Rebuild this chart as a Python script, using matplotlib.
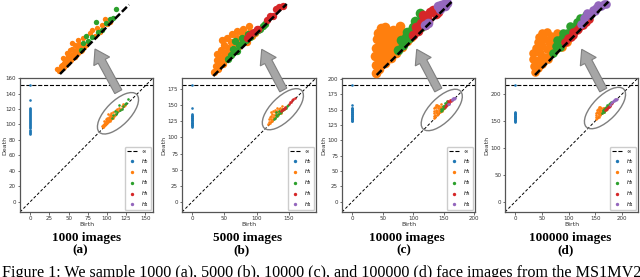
import numpy as np
import matplotlib
matplotlib.use("Agg")
import matplotlib.pyplot as plt
from matplotlib.patches import Ellipse, FancyArrow
from matplotlib.transforms import IdentityTransform
from matplotlib.ticker import MultipleLocator

inf = np.inf

# ---------------- data ----------------
titles = ["1000 images", "5000 images", "10000 images", "100000 images"]
letters = ["(a)", "(b)", "(c)", "(d)"]
caption = ("Figure 1: We sample 1000 (a), 5000 (b), 10000 (c), and 100000 (d) "
           "face images from the MS1MV2")
max_finite = [133.5, 160.5, 168.0, 191.5]
x_tick_step = [25, 50, 50, 50]
y_tick_step = [20, 25, 25, 50]

# H0 deaths (births are all 0)
h0_a = [88.0, 89.4, 90.6, 92.1, 93.3, 94.8, 96.2, 97.4, 98.9, 100.3, 101.6, 102.9,
        104.2, 105.6, 107.1, 108.3, 109.7, 111.0, 112.4, 113.6, 115.1, 116.3,
        117.8, 119.0, 120.2, 121.5, 132.0, inf]
h0_b = [116.8, 117.9, 119.1, 120.0, 121.2, 122.3, 123.1, 124.4, 125.3, 126.6,
        127.4, 128.7, 129.6, 130.8, 131.9, 132.7, 133.8, 135.0, 136.2, 145.2, inf]
h0_c = [130.8, 132.1, 133.0, 134.2, 135.1, 136.3, 137.2, 138.4, 139.5, 140.3,
        141.6, 142.4, 143.7, 144.5, 145.8, 146.6, 147.9, 148.7, 150.0, 150.9,
        152.1, 153.2, 157.6, inf]
h0_d = [148.2, 149.3, 150.4, 151.6, 152.5, 153.7, 154.6, 155.8, 156.9, 157.8,
        159.1, 160.0, 161.2, 162.3, 163.1, 164.4, 165.3, 166.6, inf]

# H1..H4 (birth, death) pairs
h1_a = [(93.0, 97.7), (94.5, 96.5), (95.5, 99.5), (96.0, 100.2), (96.8, 104.1),
        (97.5, 99.0), (98.0, 102.5), (98.8, 107.0), (99.5, 101.5), (100.2, 104.5),
        (100.8, 108.9), (101.5, 103.0), (101.7, 113.1), (102.8, 106.0),
        (103.5, 104.8), (103.7, 111.8), (104.5, 108.0), (105.6, 114.7),
        (106.6, 110.8), (107.5, 109.0), (108.5, 115.6), (110.0, 112.0),
        (111.0, 113.5), (112.3, 118.5), (113.3, 120.4), (115.0, 117.0),
        (116.2, 121.4), (118.0, 119.5), (119.1, 123.3), (121.0, 126.8),
        (122.5, 124.0), (124.0, 125.0),
        (95.2, 97.3), (96.5, 98.2), (97.2, 101.3), (98.4, 100.2), (99.0, 104.0),
        (99.8, 106.2), (100.5, 102.3), (101.2, 106.0), (102.2, 109.5),
        (103.0, 108.2), (104.0, 106.0), (105.0, 110.5), (105.2, 107.0),
        (106.0, 112.6), (107.0, 108.3), (109.0, 110.5)]
h2_a = [(127.4, 132.6), (115.6, 124.9), (123.9, 126.5), (110.0, 117.2),
        (108.5, 112.7), (119.1, 120.5), (117.0, 119.0), (113.8, 116.5),
        (111.5, 114.0), (121.5, 124.5), (107.0, 109.0), (125.5, 127.5)]
h3_a = []
h4_a = []

h1_b = [(118.5, 120.5), (119.5, 124.0), (120.0, 128.0), (120.5, 131.5),
        (121.0, 122.5), (122.0, 126.0), (122.5, 134.0), (123.0, 129.5),
        (123.0, 140.0), (124.0, 125.5), (124.5, 137.0), (125.0, 132.0),
        (126.0, 128.5), (126.0, 141.5), (127.0, 135.0), (128.0, 131.0),
        (128.5, 139.0), (129.0, 143.5), (130.0, 133.0), (131.0, 137.0),
        (132.0, 145.5), (132.5, 141.0), (133.0, 135.5), (134.0, 139.0),
        (135.0, 144.0), (136.0, 146.5), (137.0, 141.5), (138.0, 138.5),
        (139.5, 148.5), (140.0, 145.0), (141.0, 142.5), (143.0, 144.5)]
h2_b = [(127.0, 128.5), (128.5, 131.0), (130.0, 134.5), (131.0, 139.5),
        (132.0, 133.0), (133.5, 137.0), (135.0, 141.5), (136.0, 138.5),
        (137.5, 140.0), (139.0, 143.5), (140.0, 142.0), (141.5, 144.0),
        (143.0, 145.0), (144.5, 146.0), (146.0, 146.5), (147.5, 148.5),
        (149.0, 150.0)]
h3_b = [(138.0, 141.0), (139.5, 143.0), (141.0, 144.5), (142.5, 145.0),
        (144.0, 146.5), (145.0, 147.0), (150.0, 152.0), (152.0, 154.5),
        (153.5, 154.5), (155.5, 159.0), (157.5, 160.0), (159.5, 161.0)]
h4_b = []

h1_c = [(134.5, 136.0), (134.5, 140.0), (134.3, 144.0), (134.5, 148.0),
        (135.0, 152.0), (135.8, 155.0), (137.0, 157.5), (138.9, 158.0),
        (136.0, 138.0), (136.5, 142.0), (137.0, 146.0), (137.5, 150.0),
        (138.0, 154.0), (139.0, 140.5), (139.5, 144.0), (140.0, 148.0),
        (140.5, 152.0), (141.0, 155.5), (142.8, 156.5), (141.5, 143.0),
        (142.0, 146.5), (142.5, 150.0), (143.5, 153.0), (144.0, 145.5),
        (144.5, 149.0), (145.0, 152.5), (146.0, 158.5), (146.0, 155.0),
        (147.0, 148.5), (147.5, 152.0), (148.0, 155.0), (149.0, 154.5),
        (149.0, 151.0), (150.0, 152.5), (151.0, 153.0)]
h2_c = [(145.0, 147.0), (146.5, 151.5), (147.5, 149.5), (148.5, 153.0),
        (149.0, 155.5), (150.0, 152.5), (151.0, 156.0), (152.0, 158.0),
        (153.0, 161.0), (154.0, 159.0), (155.0, 164.5), (156.0, 162.0),
        (157.0, 160.0), (155.5, 158.0), (152.5, 155.0)]
h3_c = [(152.0, 154.0), (153.5, 158.0), (154.5, 156.0), (155.5, 160.0),
        (156.8, 163.7), (157.5, 159.0), (158.5, 162.0), (160.0, 165.0),
        (161.5, 166.0), (162.5, 164.0), (163.8, 165.0), (159.0, 161.0)]
h4_c = [(157.5, 159.0), (159.0, 160.0), (163.5, 168.0), (165.0, 168.5),
        (166.5, 169.0), (168.0, 169.5), (167.0, 168.0), (164.5, 166.5)]

h1_d = [(152.0, 153.5), (151.5, 157.0), (151.0, 161.0), (151.0, 164.0),
        (152.5, 167.0), (153.5, 170.0), (154.0, 173.0), (156.0, 175.0),
        (158.4, 175.5), (153.5, 156.0), (154.0, 160.0), (155.0, 164.0),
        (156.0, 168.0), (157.0, 171.5), (156.0, 158.0), (157.5, 162.0),
        (158.5, 166.0), (159.5, 170.0), (161.0, 173.5), (163.8, 174.7),
        (159.0, 161.0), (160.5, 164.0), (161.5, 168.0), (163.0, 171.0),
        (166.0, 173.5), (163.0, 165.5), (164.0, 169.0), (166.0, 170.0),
        (168.0, 172.0), (169.3, 170.2), (166.5, 167.5), (170.0, 171.5)]
h2_d = [(162.0, 164.0), (163.5, 168.0), (164.0, 171.0), (165.5, 167.5),
        (166.5, 172.0), (167.5, 174.7), (168.5, 171.0), (169.5, 175.0),
        (171.0, 179.0), (172.0, 176.0), (173.5, 178.0), (175.0, 181.0),
        (176.5, 183.0), (178.0, 182.0), (180.0, 184.5), (174.0, 176.5),
        (170.0, 172.5), (177.0, 179.5)]
h3_d = [(168.5, 170.0), (170.0, 172.0), (171.5, 173.0), (173.0, 175.5),
        (174.7, 176.5), (176.5, 178.5), (178.0, 179.5), (180.0, 181.0),
        (181.5, 182.5), (175.5, 177.0), (172.5, 174.0)]
h4_d = [(177.0, 180.0), (179.0, 183.0), (180.2, 185.6), (182.0, 185.0),
        (183.8, 187.5), (185.0, 187.0), (186.5, 190.0), (188.0, 189.5),
        (189.5, 191.0), (185.5, 188.5), (190.5, 191.0)]

h0_all = [h0_a, h0_b, h0_c, h0_d]
hk_all = [[h1_a, h2_a, h3_a, h4_a], [h1_b, h2_b, h3_b, h4_b],
          [h1_c, h2_c, h3_c, h4_c], [h1_d, h2_d, h3_d, h4_d]]

# ---------------- layout (pixels) ----------------
W, H = 640, 277
main_boxes = [(20, 78, 153, 212), (182, 78, 316, 212), (342, 78, 475, 212), (505, 78, 638, 212)]
inset_boxes = [(60, 4.7, 129, 74), (213.3, 4, 286.7, 76), (376.7, 1.7, 451.7, 75), (535, 1.7, 608.3, 75)]
inset_range = [(95, 135), (118, 162), (135, 170), (152, 192)]
inset_size = [15, 28, 48, 38]
ell_center = [(114.5, 114.5), (141, 144), (147, 149.5), (168, 174)]
ell_px = (53, 24)
arrows = [((118.3, 91.7), (95, 49)), ((283.3, 90), (261.7, 49.3)),
          ((438.3, 90), (416.7, 49.3)), ((603.3, 90), (581.7, 49.3))]
title_pos = [(86.7, 237.7), (247.3, 237.7), (406.7, 237.7), (570, 237.7)]
letter_pos = [(80, 250.5), (241.7, 250.5), (403.7, 250.5), (566, 250.5)]

colors = ["#1f77b4", "#ff7f0e", "#2ca02c", "#d62728", "#9467bd"]

fig = plt.figure(figsize=(6.4, 2.77), dpi=100)


def fr(l, t, r, b):
    return [l / W, 1 - b / H, (r - l) / W, (b - t) / H]


for i in range(4):
    M = max_finite[i]
    lo, hi = -M / 10, 1.2 * M
    binf = lo + 1.3 * M * 0.95
    ax = fig.add_axes(fr(*main_boxes[i]))
    ax.plot([lo, hi], [lo, hi], ls=(0, (3, 2)), c="k", lw=0.7)
    ax.plot([lo, hi], [binf, binf], "--", c="k", lw=0.8, label=r"$\infty$")
    d0 = np.array(h0_all[i], dtype=float)
    d0[np.isinf(d0)] = binf
    ax.scatter(np.zeros_like(d0), d0, s=3.5, c=colors[0], lw=0, label=r"$H_0$", zorder=3)
    for k, dg in enumerate(hk_all[i]):
        arr = np.array(dg, dtype=float).reshape(-1, 2)
        ax.scatter(arr[:, 0], arr[:, 1], s=3.5, c=colors[k + 1], lw=0,
                   label=r"$H_%d$" % (k + 1), zorder=3)
    ax.set_xlim(lo, hi)
    ax.set_ylim(lo, hi)
    ax.xaxis.set_major_locator(MultipleLocator(x_tick_step[i]))
    ax.yaxis.set_major_locator(MultipleLocator(y_tick_step[i]))
    ax.tick_params(labelsize=4.0, length=1.8, width=0.5, pad=1.0, colors="#333333")
    ax.set_xlabel("Birth", fontsize=4.5, labelpad=1, color="#333333")
    ax.set_ylabel("Death", fontsize=4.5, labelpad=0.6, color="#333333")
    if i == 0:
        ax.yaxis.set_label_coords(-0.097, 0.5)
    for sp in ax.spines.values():
        sp.set_color("#555555")
        sp.set_linewidth(0.9)
    ax.legend(loc="lower right", fontsize=3.8, markerscale=1.3, handlelength=2.0,
              borderpad=0.35, labelspacing=0.35, handletextpad=0.8,
              borderaxespad=0.3, framealpha=1, edgecolor="#cccccc")
    # ellipse around the cluster
    ppu = (main_boxes[i][2] - main_boxes[i][0]) / (hi - lo)
    ax.add_patch(Ellipse(ell_center[i], ell_px[0] / ppu, ell_px[1] / ppu, angle=45,
                         fill=False, ec="#7f7f7f", lw=1.0, zorder=4))

    # magnified inset
    ilo, ihi = inset_range[i]
    axi = fig.add_axes(fr(*inset_boxes[i]))
    axi.set_xlim(ilo, ihi)
    axi.set_ylim(ilo, ihi)
    axi.axis("off")
    for k, dg in enumerate(hk_all[i]):
        arr = np.array(dg, dtype=float).reshape(-1, 2)
        axi.scatter(arr[:, 0], arr[:, 1], s=inset_size[i], c=colors[k + 1], lw=0,
                    clip_on=False, zorder=2 + k)
    axi.plot([ilo, ihi], [ilo, ihi], ls=(0, (2.8, 1.1)), lw=1.8, c="k", zorder=10,
             clip_on=False)

    # arrow
    (tx, ty), (hx, hy) = arrows[i]
    fig.add_artist(FancyArrow(tx, H - ty, hx - tx, ty - hy, width=8, head_width=18,
                              head_length=14, length_includes_head=True,
                              transform=IdentityTransform(), fc="#a6a6a6",
                              ec="#808080", lw=0.8, zorder=20))

    fig.text(title_pos[i][0] / W, 1 - title_pos[i][1] / H, titles[i], ha="center",
             va="center", family="Liberation Serif", weight="bold", fontsize=9.5)
    fig.text(letter_pos[i][0] / W, 1 - letter_pos[i][1] / H, letters[i], ha="center",
             va="center", family="Liberation Serif", weight="bold", fontsize=9.5)

fig.text(1.5 / W, 1 - 277 / H, caption, ha="left", va="baseline",
         family="Liberation Serif", fontsize=11.6)

fig.savefig("out.png", dpi=100)
